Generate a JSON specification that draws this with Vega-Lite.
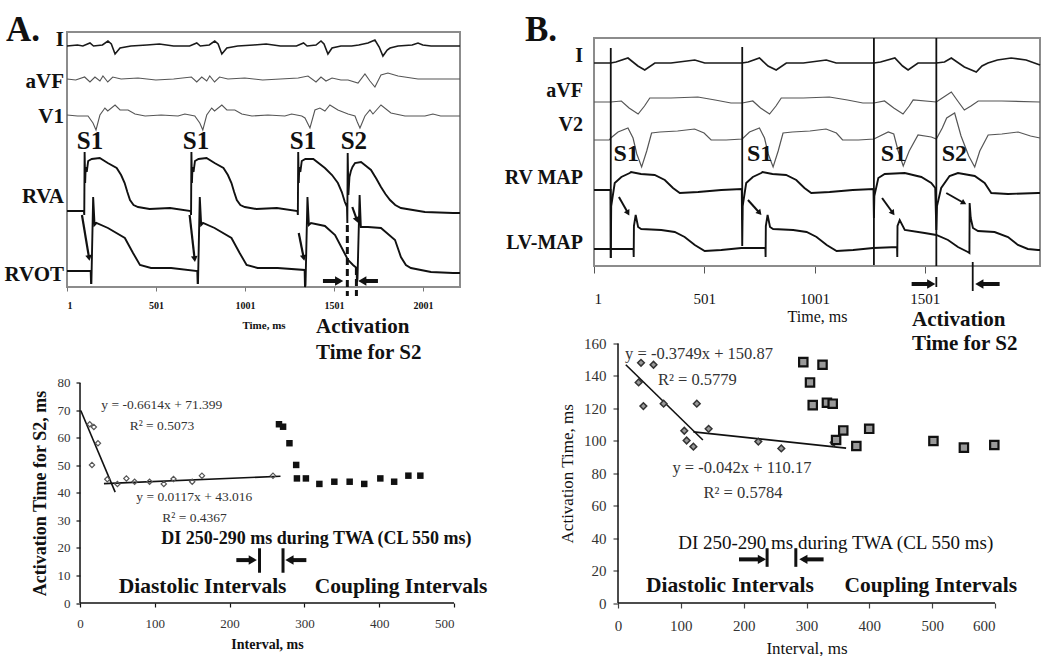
{
"$schema":"https://vega.github.io/schema/vega-lite/v6.json",
"padding":{"left":3,"top":12,"right":0,"bottom":0},
"bounds":"flush",
"align":"each",
"columns":2,
"spacing":{"row":56.5,"column":134},
"config":{"view":{"stroke":null},"font":"Liberation Serif","axis":{"grid":false,"labelFont":"Liberation Serif","titleFont":"Liberation Serif"}},
"datasets":{
"trA":[
{"ch":"RVA","t":1,"v":76},{"ch":"RVA","t":96,"v":76},{"ch":"RVA","t":98,"v":72},{"ch":"RVA","t":100,"v":135},{"ch":"RVA","t":103,"v":104},{"ch":"RVA","t":106,"v":120},{"ch":"RVA","t":112,"v":115},{"ch":"RVA","t":120,"v":126},{"ch":"RVA","t":140,"v":128},{"ch":"RVA","t":185,"v":129},{"ch":"RVA","t":230,"v":124},{"ch":"RVA","t":280,"v":119},{"ch":"RVA","t":305,"v":112},{"ch":"RVA","t":325,"v":104},{"ch":"RVA","t":340,"v":95},{"ch":"RVA","t":355,"v":87},{"ch":"RVA","t":375,"v":82},{"ch":"RVA","t":400,"v":80},{"ch":"RVA","t":465,"v":78},{"ch":"RVA","t":580,"v":79},{"ch":"RVA","t":696,"v":76},{"ch":"RVA","t":698,"v":72},{"ch":"RVA","t":700,"v":135},{"ch":"RVA","t":703,"v":104},{"ch":"RVA","t":706,"v":120},{"ch":"RVA","t":712,"v":115},{"ch":"RVA","t":720,"v":126},{"ch":"RVA","t":740,"v":128},{"ch":"RVA","t":785,"v":129},{"ch":"RVA","t":830,"v":124},{"ch":"RVA","t":880,"v":119},{"ch":"RVA","t":905,"v":112},{"ch":"RVA","t":925,"v":104},{"ch":"RVA","t":940,"v":95},{"ch":"RVA","t":955,"v":87},{"ch":"RVA","t":975,"v":82},{"ch":"RVA","t":1000,"v":80},{"ch":"RVA","t":1065,"v":78},{"ch":"RVA","t":1180,"v":79},{"ch":"RVA","t":1296,"v":76},{"ch":"RVA","t":1298,"v":72},{"ch":"RVA","t":1300,"v":135},{"ch":"RVA","t":1303,"v":104},{"ch":"RVA","t":1306,"v":120},{"ch":"RVA","t":1312,"v":115},{"ch":"RVA","t":1320,"v":126},{"ch":"RVA","t":1340,"v":128},{"ch":"RVA","t":1385,"v":128},{"ch":"RVA","t":1450,"v":119},{"ch":"RVA","t":1490,"v":112},{"ch":"RVA","t":1523,"v":104},{"ch":"RVA","t":1545,"v":95},{"ch":"RVA","t":1562,"v":85},{"ch":"RVA","t":1574,"v":80},{"ch":"RVA","t":1576,"v":64},{"ch":"RVA","t":1578,"v":134},{"ch":"RVA","t":1582,"v":92},{"ch":"RVA","t":1588,"v":110},{"ch":"RVA","t":1596,"v":116},{"ch":"RVA","t":1605,"v":120},{"ch":"RVA","t":1619,"v":124},{"ch":"RVA","t":1653,"v":125},{"ch":"RVA","t":1709,"v":117},{"ch":"RVA","t":1740,"v":108},{"ch":"RVA","t":1765,"v":100},{"ch":"RVA","t":1790,"v":93},{"ch":"RVA","t":1816,"v":87},{"ch":"RVA","t":1845,"v":82},{"ch":"RVA","t":1877,"v":79},{"ch":"RVA","t":2012,"v":75},{"ch":"RVA","t":2170,"v":74},{"ch":"RVA","t":2209,"v":74},
{"ch":"RVOT","t":1,"v":16},{"ch":"RVOT","t":134,"v":16},{"ch":"RVOT","t":136,"v":4},{"ch":"RVOT","t":138,"v":4},{"ch":"RVOT","t":148,"v":90},{"ch":"RVOT","t":156,"v":62},{"ch":"RVOT","t":166,"v":64},{"ch":"RVOT","t":231,"v":59},{"ch":"RVOT","t":326,"v":49},{"ch":"RVOT","t":372,"v":34},{"ch":"RVOT","t":411,"v":22},{"ch":"RVOT","t":473,"v":19},{"ch":"RVOT","t":586,"v":19},{"ch":"RVOT","t":733,"v":16},{"ch":"RVOT","t":735,"v":4},{"ch":"RVOT","t":737,"v":4},{"ch":"RVOT","t":747,"v":90},{"ch":"RVOT","t":755,"v":62},{"ch":"RVOT","t":765,"v":64},{"ch":"RVOT","t":830,"v":59},{"ch":"RVOT","t":925,"v":49},{"ch":"RVOT","t":971,"v":34},{"ch":"RVOT","t":1010,"v":22},{"ch":"RVOT","t":1072,"v":19},{"ch":"RVOT","t":1185,"v":19},{"ch":"RVOT","t":1336,"v":17},{"ch":"RVOT","t":1338,"v":0},{"ch":"RVOT","t":1341,"v":2},{"ch":"RVOT","t":1352,"v":90},{"ch":"RVOT","t":1360,"v":62},{"ch":"RVOT","t":1372,"v":64},{"ch":"RVOT","t":1450,"v":61},{"ch":"RVOT","t":1507,"v":52},{"ch":"RVOT","t":1551,"v":37},{"ch":"RVOT","t":1580,"v":27},{"ch":"RVOT","t":1608,"v":22},{"ch":"RVOT","t":1628,"v":19},{"ch":"RVOT","t":1630,"v":5},{"ch":"RVOT","t":1633,"v":8},{"ch":"RVOT","t":1645,"v":92},{"ch":"RVOT","t":1652,"v":60},{"ch":"RVOT","t":1662,"v":60},{"ch":"RVOT","t":1692,"v":60},{"ch":"RVOT","t":1765,"v":59},{"ch":"RVOT","t":1844,"v":47},{"ch":"RVOT","t":1877,"v":30},{"ch":"RVOT","t":1905,"v":22},{"ch":"RVOT","t":1933,"v":19},{"ch":"RVOT","t":2046,"v":15},{"ch":"RVOT","t":2170,"v":14},{"ch":"RVOT","t":2209,"v":14},
{"ch":"I","t":1,"v":241},{"ch":"I","t":60,"v":242},{"ch":"I","t":90,"v":241},{"ch":"I","t":130,"v":244},{"ch":"I","t":150,"v":241},{"ch":"I","t":200,"v":242},{"ch":"I","t":231,"v":246},{"ch":"I","t":250,"v":243},{"ch":"I","t":271,"v":233},{"ch":"I","t":299,"v":239},{"ch":"I","t":360,"v":241},{"ch":"I","t":450,"v":242},{"ch":"I","t":520,"v":243},{"ch":"I","t":600,"v":241},{"ch":"I","t":690,"v":241},{"ch":"I","t":730,"v":244},{"ch":"I","t":750,"v":241},{"ch":"I","t":800,"v":242},{"ch":"I","t":831,"v":246},{"ch":"I","t":850,"v":243},{"ch":"I","t":871,"v":233},{"ch":"I","t":899,"v":239},{"ch":"I","t":960,"v":241},{"ch":"I","t":1050,"v":242},{"ch":"I","t":1120,"v":243},{"ch":"I","t":1200,"v":241},{"ch":"I","t":1290,"v":241},{"ch":"I","t":1330,"v":244},{"ch":"I","t":1350,"v":241},{"ch":"I","t":1400,"v":242},{"ch":"I","t":1428,"v":246},{"ch":"I","t":1445,"v":243},{"ch":"I","t":1467,"v":233},{"ch":"I","t":1490,"v":239},{"ch":"I","t":1540,"v":241},{"ch":"I","t":1600,"v":241},{"ch":"I","t":1640,"v":242},{"ch":"I","t":1692,"v":244},{"ch":"I","t":1731,"v":247},{"ch":"I","t":1755,"v":240},{"ch":"I","t":1776,"v":231},{"ch":"I","t":1800,"v":237},{"ch":"I","t":1816,"v":239},{"ch":"I","t":1861,"v":241},{"ch":"I","t":1940,"v":242},{"ch":"I","t":1973,"v":244},{"ch":"I","t":2000,"v":242},{"ch":"I","t":2046,"v":241},{"ch":"I","t":2209,"v":241},
{"ch":"aVF","t":1,"v":208},{"ch":"aVF","t":50,"v":207},{"ch":"aVF","t":100,"v":210},{"ch":"aVF","t":130,"v":205},{"ch":"aVF","t":158,"v":210},{"ch":"aVF","t":186,"v":206},{"ch":"aVF","t":203,"v":211},{"ch":"aVF","t":230,"v":205},{"ch":"aVF","t":258,"v":210},{"ch":"aVF","t":305,"v":208},{"ch":"aVF","t":400,"v":209},{"ch":"aVF","t":500,"v":207},{"ch":"aVF","t":600,"v":208},{"ch":"aVF","t":700,"v":210},{"ch":"aVF","t":730,"v":205},{"ch":"aVF","t":758,"v":210},{"ch":"aVF","t":786,"v":206},{"ch":"aVF","t":803,"v":211},{"ch":"aVF","t":830,"v":205},{"ch":"aVF","t":858,"v":210},{"ch":"aVF","t":905,"v":208},{"ch":"aVF","t":1000,"v":209},{"ch":"aVF","t":1100,"v":207},{"ch":"aVF","t":1200,"v":208},{"ch":"aVF","t":1300,"v":209},{"ch":"aVF","t":1355,"v":211},{"ch":"aVF","t":1400,"v":205},{"ch":"aVF","t":1428,"v":210},{"ch":"aVF","t":1456,"v":206},{"ch":"aVF","t":1490,"v":209},{"ch":"aVF","t":1540,"v":207},{"ch":"aVF","t":1580,"v":207},{"ch":"aVF","t":1636,"v":204},{"ch":"aVF","t":1675,"v":213},{"ch":"aVF","t":1703,"v":206},{"ch":"aVF","t":1731,"v":200},{"ch":"aVF","t":1765,"v":212},{"ch":"aVF","t":1804,"v":214},{"ch":"aVF","t":1861,"v":211},{"ch":"aVF","t":1973,"v":208},{"ch":"aVF","t":2100,"v":208},{"ch":"aVF","t":2209,"v":208},
{"ch":"V1","t":1,"v":172},{"ch":"V1","t":60,"v":171},{"ch":"V1","t":119,"v":171},{"ch":"V1","t":147,"v":164},{"ch":"V1","t":164,"v":157},{"ch":"V1","t":186,"v":172},{"ch":"V1","t":214,"v":179},{"ch":"V1","t":230,"v":176},{"ch":"V1","t":271,"v":182},{"ch":"V1","t":299,"v":177},{"ch":"V1","t":344,"v":177},{"ch":"V1","t":383,"v":173},{"ch":"V1","t":440,"v":171},{"ch":"V1","t":530,"v":172},{"ch":"V1","t":625,"v":171},{"ch":"V1","t":663,"v":173},{"ch":"V1","t":719,"v":171},{"ch":"V1","t":747,"v":164},{"ch":"V1","t":764,"v":157},{"ch":"V1","t":786,"v":172},{"ch":"V1","t":814,"v":179},{"ch":"V1","t":830,"v":176},{"ch":"V1","t":871,"v":182},{"ch":"V1","t":899,"v":177},{"ch":"V1","t":944,"v":177},{"ch":"V1","t":983,"v":173},{"ch":"V1","t":1040,"v":171},{"ch":"V1","t":1130,"v":172},{"ch":"V1","t":1225,"v":171},{"ch":"V1","t":1263,"v":173},{"ch":"V1","t":1320,"v":171},{"ch":"V1","t":1338,"v":169},{"ch":"V1","t":1366,"v":159},{"ch":"V1","t":1394,"v":177},{"ch":"V1","t":1422,"v":179},{"ch":"V1","t":1450,"v":176},{"ch":"V1","t":1478,"v":182},{"ch":"V1","t":1523,"v":177},{"ch":"V1","t":1580,"v":173},{"ch":"V1","t":1619,"v":171},{"ch":"V1","t":1632,"v":165},{"ch":"V1","t":1647,"v":159},{"ch":"V1","t":1675,"v":171},{"ch":"V1","t":1703,"v":177},{"ch":"V1","t":1720,"v":173},{"ch":"V1","t":1765,"v":182},{"ch":"V1","t":1821,"v":174},{"ch":"V1","t":1900,"v":171},{"ch":"V1","t":2012,"v":171},{"ch":"V1","t":2057,"v":173},{"ch":"V1","t":2100,"v":171},{"ch":"V1","t":2209,"v":171}
],
"txA":[
{"kind":"ch","t":1,"v":247,"label":"I"},{"kind":"ch","t":1,"v":205,"label":"aVF"},{"kind":"ch","t":1,"v":170,"label":"V1"},{"kind":"ch","t":1,"v":90,"label":"RVA"},{"kind":"ch","t":1,"v":12,"label":"RVOT"},
{"kind":"P","t":1,"v":257,"label":"A."},
{"kind":"S","t":130,"v":146,"label":"S1"},{"kind":"S","t":726,"v":146,"label":"S1"},{"kind":"S","t":1327,"v":146,"label":"S1"},{"kind":"S","t":1613,"v":146,"label":"S2"},
{"kind":"act","t":1400,"v":-40,"label":"Activation"},{"kind":"act","t":1400,"v":-66,"label":"Time for S2"}
],
"arA":[
{"kind":"tr","t0":85,"v0":72,"t":125,"v":29,"ang":81},{"kind":"tr","t0":690,"v0":72,"t":718,"v":28,"ang":83},{"kind":"tr","t0":1303,"v0":54,"t":1331,"v":29,"ang":79},{"kind":"tr","t0":1604,"v0":80,"t":1630,"v":67,"ang":70},
{"kind":"big","t0":1439,"v0":6,"t":1530,"v":6,"ang":0},{"kind":"big","t0":1748,"v0":6,"t":1660,"v":6,"ang":180}
],
"vrA":[{"t":1576,"v":62,"v2":-9},{"t":1627,"v":19,"v2":-9}],
"trB":[
{"ch":"I","t":1,"v":203},{"ch":"I","t":77,"v":203},{"ch":"I","t":100,"v":204},{"ch":"I","t":155,"v":208},{"ch":"I","t":200,"v":200},{"ch":"I","t":231,"v":196},{"ch":"I","t":277,"v":203},{"ch":"I","t":350,"v":203},{"ch":"I","t":458,"v":206},{"ch":"I","t":503,"v":203},{"ch":"I","t":600,"v":203},{"ch":"I","t":673,"v":203},{"ch":"I","t":700,"v":204},{"ch":"I","t":751,"v":208},{"ch":"I","t":790,"v":200},{"ch":"I","t":827,"v":196},{"ch":"I","t":873,"v":203},{"ch":"I","t":950,"v":203},{"ch":"I","t":1054,"v":206},{"ch":"I","t":1099,"v":203},{"ch":"I","t":1200,"v":203},{"ch":"I","t":1270,"v":203},{"ch":"I","t":1300,"v":204},{"ch":"I","t":1365,"v":208},{"ch":"I","t":1400,"v":200},{"ch":"I","t":1425,"v":196},{"ch":"I","t":1470,"v":203},{"ch":"I","t":1553,"v":203},{"ch":"I","t":1590,"v":204},{"ch":"I","t":1621,"v":208},{"ch":"I","t":1680,"v":199},{"ch":"I","t":1734,"v":194},{"ch":"I","t":1760,"v":200},{"ch":"I","t":1787,"v":203},{"ch":"I","t":1830,"v":206},{"ch":"I","t":1892,"v":208},{"ch":"I","t":1960,"v":206},{"ch":"I","t":2023,"v":201},
{"ch":"aVF","t":1,"v":164},{"ch":"aVF","t":77,"v":164},{"ch":"aVF","t":125,"v":165},{"ch":"aVF","t":160,"v":158},{"ch":"aVF","t":201,"v":152},{"ch":"aVF","t":230,"v":160},{"ch":"aVF","t":254,"v":168},{"ch":"aVF","t":350,"v":168},{"ch":"aVF","t":472,"v":169},{"ch":"aVF","t":550,"v":166},{"ch":"aVF","t":622,"v":163},{"ch":"aVF","t":673,"v":163},{"ch":"aVF","t":721,"v":165},{"ch":"aVF","t":756,"v":158},{"ch":"aVF","t":797,"v":152},{"ch":"aVF","t":826,"v":160},{"ch":"aVF","t":850,"v":168},{"ch":"aVF","t":950,"v":168},{"ch":"aVF","t":1068,"v":169},{"ch":"aVF","t":1150,"v":166},{"ch":"aVF","t":1220,"v":163},{"ch":"aVF","t":1270,"v":163},{"ch":"aVF","t":1318,"v":165},{"ch":"aVF","t":1360,"v":158},{"ch":"aVF","t":1402,"v":152},{"ch":"aVF","t":1430,"v":160},{"ch":"aVF","t":1448,"v":166},{"ch":"aVF","t":1553,"v":164},{"ch":"aVF","t":1580,"v":168},{"ch":"aVF","t":1621,"v":174},{"ch":"aVF","t":1650,"v":165},{"ch":"aVF","t":1680,"v":156},{"ch":"aVF","t":1710,"v":160},{"ch":"aVF","t":1743,"v":165},{"ch":"aVF","t":1850,"v":165},{"ch":"aVF","t":2023,"v":164},
{"ch":"V2","t":1,"v":126},{"ch":"V2","t":70,"v":126},{"ch":"V2","t":77,"v":128},{"ch":"V2","t":110,"v":134},{"ch":"V2","t":155,"v":138},{"ch":"V2","t":178,"v":128},{"ch":"V2","t":195,"v":112},{"ch":"V2","t":217,"v":99},{"ch":"V2","t":240,"v":115},{"ch":"V2","t":262,"v":133},{"ch":"V2","t":300,"v":134},{"ch":"V2","t":380,"v":135},{"ch":"V2","t":457,"v":137},{"ch":"V2","t":500,"v":133},{"ch":"V2","t":532,"v":126},{"ch":"V2","t":600,"v":126},{"ch":"V2","t":673,"v":127},{"ch":"V2","t":706,"v":134},{"ch":"V2","t":751,"v":138},{"ch":"V2","t":774,"v":128},{"ch":"V2","t":791,"v":112},{"ch":"V2","t":813,"v":99},{"ch":"V2","t":836,"v":115},{"ch":"V2","t":858,"v":133},{"ch":"V2","t":900,"v":134},{"ch":"V2","t":980,"v":135},{"ch":"V2","t":1053,"v":137},{"ch":"V2","t":1100,"v":133},{"ch":"V2","t":1128,"v":126},{"ch":"V2","t":1200,"v":126},{"ch":"V2","t":1270,"v":127},{"ch":"V2","t":1335,"v":134},{"ch":"V2","t":1360,"v":132},{"ch":"V2","t":1380,"v":115},{"ch":"V2","t":1403,"v":100},{"ch":"V2","t":1430,"v":115},{"ch":"V2","t":1470,"v":131},{"ch":"V2","t":1530,"v":129},{"ch":"V2","t":1553,"v":127},{"ch":"V2","t":1580,"v":138},{"ch":"V2","t":1600,"v":148},{"ch":"V2","t":1636,"v":153},{"ch":"V2","t":1665,"v":130},{"ch":"V2","t":1700,"v":110},{"ch":"V2","t":1727,"v":99},{"ch":"V2","t":1750,"v":115},{"ch":"V2","t":1788,"v":131},{"ch":"V2","t":1850,"v":132},{"ch":"V2","t":1924,"v":134},{"ch":"V2","t":1980,"v":130},{"ch":"V2","t":2023,"v":128},
{"ch":"RV MAP","t":1,"v":76},{"ch":"RV MAP","t":76,"v":76},{"ch":"RV MAP","t":77,"v":8},{"ch":"RV MAP","t":79,"v":60},{"ch":"RV MAP","t":95,"v":83},{"ch":"RV MAP","t":125,"v":89},{"ch":"RV MAP","t":163,"v":93},{"ch":"RV MAP","t":169,"v":94},{"ch":"RV MAP","t":214,"v":92},{"ch":"RV MAP","t":276,"v":91},{"ch":"RV MAP","t":322,"v":86},{"ch":"RV MAP","t":359,"v":78},{"ch":"RV MAP","t":390,"v":73},{"ch":"RV MAP","t":473,"v":74},{"ch":"RV MAP","t":578,"v":76},{"ch":"RV MAP","t":671,"v":77},{"ch":"RV MAP","t":673,"v":20},{"ch":"RV MAP","t":675,"v":60},{"ch":"RV MAP","t":691,"v":83},{"ch":"RV MAP","t":721,"v":89},{"ch":"RV MAP","t":759,"v":93},{"ch":"RV MAP","t":765,"v":94},{"ch":"RV MAP","t":810,"v":92},{"ch":"RV MAP","t":872,"v":91},{"ch":"RV MAP","t":918,"v":86},{"ch":"RV MAP","t":955,"v":78},{"ch":"RV MAP","t":986,"v":73},{"ch":"RV MAP","t":1069,"v":74},{"ch":"RV MAP","t":1174,"v":76},{"ch":"RV MAP","t":1268,"v":77},{"ch":"RV MAP","t":1270,"v":48},{"ch":"RV MAP","t":1272,"v":70},{"ch":"RV MAP","t":1290,"v":88},{"ch":"RV MAP","t":1319,"v":92},{"ch":"RV MAP","t":1410,"v":93},{"ch":"RV MAP","t":1485,"v":89},{"ch":"RV MAP","t":1530,"v":83},{"ch":"RV MAP","t":1548,"v":78},{"ch":"RV MAP","t":1553,"v":36},{"ch":"RV MAP","t":1556,"v":60},{"ch":"RV MAP","t":1575,"v":78},{"ch":"RV MAP","t":1613,"v":90},{"ch":"RV MAP","t":1651,"v":93},{"ch":"RV MAP","t":1727,"v":90},{"ch":"RV MAP","t":1772,"v":83},{"ch":"RV MAP","t":1802,"v":73},{"ch":"RV MAP","t":1878,"v":72},{"ch":"RV MAP","t":2014,"v":73},{"ch":"RV MAP","t":2023,"v":73},
{"ch":"LV-MAP","t":1,"v":17},{"ch":"LV-MAP","t":180,"v":17},{"ch":"LV-MAP","t":181,"v":9},{"ch":"LV-MAP","t":182,"v":40},{"ch":"LV-MAP","t":190,"v":51},{"ch":"LV-MAP","t":201,"v":39},{"ch":"LV-MAP","t":215,"v":37},{"ch":"LV-MAP","t":306,"v":36},{"ch":"LV-MAP","t":367,"v":34},{"ch":"LV-MAP","t":412,"v":29},{"ch":"LV-MAP","t":458,"v":21},{"ch":"LV-MAP","t":503,"v":15},{"ch":"LV-MAP","t":578,"v":16},{"ch":"LV-MAP","t":669,"v":18},{"ch":"LV-MAP","t":778,"v":18},{"ch":"LV-MAP","t":779,"v":9},{"ch":"LV-MAP","t":780,"v":40},{"ch":"LV-MAP","t":788,"v":51},{"ch":"LV-MAP","t":799,"v":39},{"ch":"LV-MAP","t":813,"v":37},{"ch":"LV-MAP","t":904,"v":36},{"ch":"LV-MAP","t":965,"v":34},{"ch":"LV-MAP","t":1010,"v":29},{"ch":"LV-MAP","t":1056,"v":21},{"ch":"LV-MAP","t":1101,"v":15},{"ch":"LV-MAP","t":1176,"v":16},{"ch":"LV-MAP","t":1267,"v":18},{"ch":"LV-MAP","t":1375,"v":19},{"ch":"LV-MAP","t":1376,"v":9},{"ch":"LV-MAP","t":1377,"v":40},{"ch":"LV-MAP","t":1387,"v":46},{"ch":"LV-MAP","t":1410,"v":36},{"ch":"LV-MAP","t":1500,"v":33},{"ch":"LV-MAP","t":1553,"v":31},{"ch":"LV-MAP","t":1606,"v":26},{"ch":"LV-MAP","t":1651,"v":19},{"ch":"LV-MAP","t":1696,"v":14},{"ch":"LV-MAP","t":1703,"v":13},{"ch":"LV-MAP","t":1704,"v":63},{"ch":"LV-MAP","t":1709,"v":48},{"ch":"LV-MAP","t":1719,"v":38},{"ch":"LV-MAP","t":1742,"v":35},{"ch":"LV-MAP","t":1817,"v":34},{"ch":"LV-MAP","t":1878,"v":29},{"ch":"LV-MAP","t":1923,"v":21},{"ch":"LV-MAP","t":1968,"v":17},{"ch":"LV-MAP","t":2014,"v":16},{"ch":"LV-MAP","t":2023,"v":16}
],
"txB":[
{"kind":"ch","t":1,"v":210,"label":"I"},{"kind":"ch","t":1,"v":175,"label":"aVF"},{"kind":"ch","t":1,"v":141,"label":"V2"},{"kind":"ch","t":1,"v":88.5,"label":"RV MAP"},{"kind":"ch","t":1,"v":23.3,"label":"LV-MAP"},
{"kind":"P","t":1,"v":236,"label":"B."},
{"kind":"S","t":147,"v":112,"label":"S1"},{"kind":"S","t":752,"v":112,"label":"S1"},{"kind":"S","t":1359,"v":112,"label":"S1"},{"kind":"S","t":1635,"v":112,"label":"S2"},
{"kind":"act","t":1443,"v":-54,"label":"Activation"},{"kind":"act","t":1443,"v":-77.5,"label":"Time for S2"}
],
"arB":[
{"kind":"tr","t0":114,"v0":69,"t":155,"v":53,"ang":61},{"kind":"tr","t0":699,"v0":66,"t":752,"v":53,"ang":49},{"kind":"tr","t0":1307,"v0":68,"t":1356,"v":53,"ang":54},{"kind":"tr","t0":1598,"v0":73,"t":1678,"v":63,"ang":30},
{"kind":"big","t0":1441,"v0":-18,"t":1530,"v":-18,"ang":0},{"kind":"big","t0":1840,"v0":-18,"t":1748,"v":-18,"ang":180}
],
"vrB":[{"t":77,"v":218,"v2":8},{"t":673,"v":219,"v2":46},{"t":1270,"v":228,"v2":1},{"t":1553,"v":228,"v2":0}],
"brB":[{"t":1553,"v":-11,"v2":-21},{"t":1718,"v":4,"v2":-25}],
"frB":[{"t":1,"t2":2023,"v":0,"v2":228}],
"ptA":[
{"grp":"D","x":13,"y":65},{"grp":"D","x":18.5,"y":64},{"grp":"D","x":16,"y":50.2},{"grp":"D","x":24,"y":58.1},{"grp":"D","x":36.5,"y":45},{"grp":"D","x":50,"y":43.3},{"grp":"D","x":62,"y":45.3},{"grp":"D","x":73,"y":44.1},{"grp":"D","x":93,"y":44.1},{"grp":"D","x":112,"y":43.3},{"grp":"D","x":125,"y":45.1},{"grp":"D","x":150,"y":44.1},{"grp":"D","x":163,"y":46.3},{"grp":"D","x":258,"y":46.3},
{"grp":"S","x":266,"y":65},{"grp":"S","x":271.5,"y":64.1},{"grp":"S","x":280,"y":58.1},{"grp":"S","x":289,"y":50.2},{"grp":"S","x":290,"y":45.3},{"grp":"S","x":302,"y":45.3},{"grp":"S","x":320,"y":43.3},{"grp":"S","x":340,"y":44.1},{"grp":"S","x":360.5,"y":44.1},{"grp":"S","x":380,"y":43.3},{"grp":"S","x":401.5,"y":45.3},{"grp":"S","x":420,"y":44.1},{"grp":"S","x":439,"y":46.3},{"grp":"S","x":455,"y":46.3}
],
"lnA":[{"seg":"a","x":1,"y":70},{"seg":"a","x":47,"y":40.3},{"seg":"b","x":32,"y":43.4},{"seg":"b","x":268,"y":46.1}],
"axA":[{"x":0,"y":0,"x2":500,"y2":0},{"x":0,"y":0,"x2":0,"y2":80}],
"tA":[
{"kind":"eq","x":28.5,"y":72,"label":"y = -0.6614x + 71.399"},{"kind":"eq","x":66.4,"y":64.5,"label":"R² = 0.5073"},{"kind":"eq","x":75.3,"y":38.4,"label":"y = 0.0117x + 43.016"},{"kind":"eq","x":110,"y":30.8,"label":"R² = 0.4367"},
{"kind":"di","x":108.7,"y":23.3,"label":"DI 250-290 ms during TWA (CL 550 ms)"},
{"kind":"big","x":51.7,"y":5.9,"label":"Diastolic Intervals"},{"kind":"big","x":313.7,"y":5.9,"label":"Coupling Intervals"}
],
"aA":[{"x0":209,"y0":15.6,"x":231,"y":15.6,"ang":0},{"x0":302.6,"y0":15.6,"x":280,"y":15.6,"ang":180}],
"bA":[{"x":240,"y":19.9,"y2":11},{"x":271.4,"y":19.9,"y2":11}],
"ptB":[
{"grp":"D","x":32.8,"y":136},{"grp":"D","x":36.6,"y":148.1},{"grp":"D","x":40.4,"y":121.4},{"grp":"D","x":56.5,"y":146.9},{"grp":"D","x":72.6,"y":122.9},{"grp":"D","x":105.5,"y":106.2},{"grp":"D","x":109.2,"y":100.2},{"grp":"D","x":120,"y":96.4},{"grp":"D","x":125.4,"y":122.9},{"grp":"D","x":144.2,"y":107.4},{"grp":"D","x":223.3,"y":99.5},{"grp":"D","x":259.9,"y":95.3},{"grp":"D","x":343.3,"y":98.9},
{"grp":"S","x":294.9,"y":148.5},{"grp":"S","x":305.6,"y":136},{"grp":"S","x":309.9,"y":122},{"grp":"S","x":325.5,"y":146.9},{"grp":"S","x":332.5,"y":123.5},{"grp":"S","x":341.7,"y":122.9},{"grp":"S","x":347.1,"y":100.5},{"grp":"S","x":358.5,"y":106.4},{"grp":"S","x":379.3,"y":96.8},{"grp":"S","x":399.8,"y":107.4},{"grp":"S","x":502,"y":99.9},{"grp":"S","x":550.5,"y":95.8},{"grp":"S","x":598.9,"y":97.4}
],
"lnB":[{"seg":"a","x":12.4,"y":146.9},{"seg":"a","x":135.1,"y":100.5},{"seg":"b","x":120,"y":105.5},{"seg":"b","x":363,"y":95.5}],
"axB":[{"x":0,"y":0,"x2":600,"y2":0},{"x":0,"y":0,"x2":0,"y2":160}],
"tB":[
{"kind":"eq","x":11.3,"y":153.3,"label":"y = -0.3749x + 150.87"},{"kind":"eq","x":63.5,"y":137.5,"label":"R² = 0.5779"},{"kind":"eq","x":86.6,"y":83.2,"label":"y = -0.042x + 110.17"},{"kind":"eq","x":136.1,"y":67.6,"label":"R² = 0.5784"},
{"kind":"di","x":95.8,"y":37.3,"label":"DI 250-290 ms during TWA (CL 550 ms)"},
{"kind":"big","x":44.7,"y":10.2,"label":"Diastolic Intervals"},{"kind":"big","x":360.5,"y":10.2,"label":"Coupling Intervals"}
],
"aB":[{"x0":192.6,"y0":26.9,"x":229,"y":26.9,"ang":0},{"x0":327.2,"y0":26.9,"x":295,"y":26.9,"ang":180}],
"bB":[{"x":237.3,"y":33.8,"y2":22.3},{"x":283,"y":33.8,"y2":22.3}]
},
"concat":[
 {"width":393,"height":255,"view":{"stroke":"#8c8c8c","strokeWidth":2},
  "encoding":{
   "x":{"field":"t","type":"quantitative","scale":{"domain":[1,2209],"nice":false,"zero":false},"axis":{"values":[1,501,1001,1501,2001],"format":"d","title":"Time, ms","domain":false,"tickSize":4,"tickColor":"#777","labelFontWeight":"bold","labelFontSize":10,"labelColor":"#111","labelPadding":9,"titleFontWeight":"bold","titleFontSize":11,"titleColor":"#111","titlePadding":9}},
   "y":{"field":"v","type":"quantitative","scale":{"domain":[0,255],"nice":false,"zero":false},"axis":null}
  },
  "layer":[
   {"data":{"name":"trA"},"transform":[{"filter":{"field":"ch","oneOf":["RVA","RVOT"]}}],"mark":{"type":"line","color":"#111","strokeWidth":1.9},"encoding":{"detail":{"field":"ch"}}},
   {"data":{"name":"trA"},"transform":[{"filter":{"field":"ch","oneOf":["I"]}}],"mark":{"type":"line","color":"#1a1a1a","strokeWidth":1.6},"encoding":{"detail":{"field":"ch"}}},
   {"data":{"name":"trA"},"transform":[{"filter":{"field":"ch","oneOf":["aVF","V1"]}}],"mark":{"type":"line","color":"#555","strokeWidth":1.1},"encoding":{"detail":{"field":"ch"}}},
   {"data":{"name":"vrA"},"mark":{"type":"rule","strokeWidth":3,"strokeDash":[7,4],"color":"#111"},"encoding":{"y2":{"field":"v2"}}},
   {"data":{"name":"arA"},"transform":[{"filter":"datum.kind === 'tr'"}],"mark":{"type":"rule","strokeWidth":2.2,"color":"#111"},"encoding":{"x2":{"field":"t0"},"y2":{"field":"v0"}}},
   {"data":{"name":"arA"},"transform":[{"filter":"datum.kind === 'tr'"}],"mark":{"type":"point","shape":"triangle-right","filled":true,"opacity":1,"color":"#111","size":45},"encoding":{"angle":{"field":"ang","type":"quantitative","scale":null}}},
   {"data":{"name":"arA"},"transform":[{"filter":"datum.kind === 'big'"}],"mark":{"type":"rule","strokeWidth":4,"color":"#111"},"encoding":{"x2":{"field":"t0"},"y2":{"field":"v0"}}},
   {"data":{"name":"arA"},"transform":[{"filter":"datum.kind === 'big'"}],"mark":{"type":"point","shape":"triangle-right","filled":true,"opacity":1,"color":"#111","size":90},"encoding":{"angle":{"field":"ang","type":"quantitative","scale":null}}},
   {"data":{"name":"txA"},"transform":[{"filter":"datum.kind === 'ch'"}],"mark":{"type":"text","align":"right","baseline":"middle","dx":-3,"font":"Liberation Serif","fontWeight":"bold","fontSize":21,"color":"#111"},"encoding":{"text":{"field":"label"}}},
   {"data":{"name":"txA"},"transform":[{"filter":"datum.kind === 'P'"}],"mark":{"type":"text","align":"right","baseline":"middle","dx":-27,"font":"Liberation Serif","fontWeight":"bold","fontSize":35,"color":"#111"},"encoding":{"text":{"field":"label"}}},
   {"data":{"name":"txA"},"transform":[{"filter":"datum.kind === 'S'"}],"mark":{"type":"text","align":"center","baseline":"middle","font":"Liberation Serif","fontWeight":"bold","fontSize":25,"color":"#111"},"encoding":{"text":{"field":"label"}}},
   {"data":{"name":"txA"},"transform":[{"filter":"datum.kind === 'act'"}],"mark":{"type":"text","align":"left","baseline":"middle","font":"Liberation Serif","fontWeight":"bold","fontSize":21,"color":"#111"},"encoding":{"text":{"field":"label"}}}
  ]
 },
 {"width":446,"height":234,
  "encoding":{
   "x":{"field":"t","type":"quantitative","scale":{"domain":[1,2023],"nice":false,"zero":false},"axis":{"values":[1,501,1001,1501],"format":"d","title":"Time, ms","domain":false,"tickSize":7,"tickColor":"#555","labelFontSize":15,"labelColor":"#111","labelPadding":18,"titleFontSize":16,"titleFontWeight":"normal","titleColor":"#111","titlePadding":2}},
   "y":{"field":"v","type":"quantitative","scale":{"domain":[0,234],"nice":false,"zero":false},"axis":null}
  },
  "layer":[
   {"data":{"name":"frB"},"mark":{"type":"rect","filled":false,"stroke":"#8c8c8c","strokeWidth":2},"encoding":{"x2":{"field":"t2"},"y2":{"field":"v2"}}},
   {"data":{"name":"trB"},"transform":[{"filter":{"field":"ch","oneOf":["RV MAP","LV-MAP"]}}],"mark":{"type":"line","color":"#111","strokeWidth":1.9},"encoding":{"detail":{"field":"ch"}}},
   {"data":{"name":"trB"},"transform":[{"filter":{"field":"ch","oneOf":["I"]}}],"mark":{"type":"line","color":"#1a1a1a","strokeWidth":1.7},"encoding":{"detail":{"field":"ch"}}},
   {"data":{"name":"trB"},"transform":[{"filter":{"field":"ch","oneOf":["aVF","V2"]}}],"mark":{"type":"line","color":"#555","strokeWidth":1.2},"encoding":{"detail":{"field":"ch"}}},
   {"data":{"name":"vrB"},"mark":{"type":"rule","strokeWidth":1.8,"color":"#111"},"encoding":{"y2":{"field":"v2"}}},
   {"data":{"name":"brB"},"mark":{"type":"rule","strokeWidth":1.8,"color":"#111"},"encoding":{"y2":{"field":"v2"}}},
   {"data":{"name":"arB"},"transform":[{"filter":"datum.kind === 'tr'"}],"mark":{"type":"rule","strokeWidth":2,"color":"#111"},"encoding":{"x2":{"field":"t0"},"y2":{"field":"v0"}}},
   {"data":{"name":"arB"},"transform":[{"filter":"datum.kind === 'tr'"}],"mark":{"type":"point","shape":"triangle-right","filled":true,"opacity":1,"color":"#111","size":40},"encoding":{"angle":{"field":"ang","type":"quantitative","scale":null}}},
   {"data":{"name":"arB"},"transform":[{"filter":"datum.kind === 'big'"}],"mark":{"type":"rule","strokeWidth":4,"color":"#111"},"encoding":{"x2":{"field":"t0"},"y2":{"field":"v0"}}},
   {"data":{"name":"arB"},"transform":[{"filter":"datum.kind === 'big'"}],"mark":{"type":"point","shape":"triangle-right","filled":true,"opacity":1,"color":"#111","size":90},"encoding":{"angle":{"field":"ang","type":"quantitative","scale":null}}},
   {"data":{"name":"txB"},"transform":[{"filter":"datum.kind === 'ch'"}],"mark":{"type":"text","align":"right","baseline":"middle","dx":-11,"font":"Liberation Serif","fontWeight":"bold","fontSize":20,"color":"#111"},"encoding":{"text":{"field":"label"}}},
   {"data":{"name":"txB"},"transform":[{"filter":"datum.kind === 'P'"}],"mark":{"type":"text","align":"right","baseline":"middle","dx":-37,"font":"Liberation Serif","fontWeight":"bold","fontSize":35,"color":"#111"},"encoding":{"text":{"field":"label"}}},
   {"data":{"name":"txB"},"transform":[{"filter":"datum.kind === 'S'"}],"mark":{"type":"text","align":"center","baseline":"middle","font":"Liberation Serif","fontWeight":"bold","fontSize":24,"color":"#111"},"encoding":{"text":{"field":"label"}}},
   {"data":{"name":"txB"},"transform":[{"filter":"datum.kind === 'act'"}],"mark":{"type":"text","align":"left","baseline":"middle","font":"Liberation Serif","fontWeight":"bold","fontSize":21,"color":"#111"},"encoding":{"text":{"field":"label"}}}
  ]
 },
 {"width":387,"height":259.5,
  "encoding":{
   "x":{"field":"x","type":"quantitative","scale":{"domain":[-17.4,500],"nice":false,"zero":false},"axis":{"values":[0,100,200,300,400,500],"title":"Interval, ms","domain":false,"tickColor":"#111","tickSize":4,"tickWidth":1.2,"labelFontSize":13,"labelColor":"#333","labelPadding":10,"titleFontSize":14,"titleFontWeight":"bold","titleColor":"#111","titlePadding":7,"titleX":200}},
   "y":{"field":"y","type":"quantitative","scale":{"domain":[0,94.36],"nice":false,"zero":false},"axis":{"values":[0,10,20,30,40,50,60,70,80],"offset":-13,"title":"Activation Time for S2, ms","domain":false,"tickColor":"#111","tickSize":4,"tickWidth":1.2,"labelFontSize":13,"labelColor":"#333","labelPadding":6,"titleFontSize":18,"titleFontWeight":"bold","titleColor":"#111","titlePadding":8,"titleY":149.5}}
  },
  "layer":[
   {"data":{"name":"axA"},"mark":{"type":"rule","strokeWidth":1.5,"color":"#111"},"encoding":{"x2":{"field":"x2"},"y2":{"field":"y2"}}},
   {"data":{"name":"lnA"},"mark":{"type":"line","color":"#111","strokeWidth":1.6},"encoding":{"detail":{"field":"seg"}}},
   {"data":{"name":"ptA"},"transform":[{"filter":"datum.grp === 'D'"}],"mark":{"type":"point","shape":"diamond","filled":false,"color":"#555","strokeWidth":1.2,"size":28,"opacity":1}},
   {"data":{"name":"ptA"},"transform":[{"filter":"datum.grp === 'S'"}],"mark":{"type":"point","shape":"square","filled":true,"color":"#111","size":42,"opacity":1}},
   {"data":{"name":"aA"},"mark":{"type":"rule","strokeWidth":4,"color":"#111"},"encoding":{"x2":{"field":"x0"},"y2":{"field":"y0"}}},
   {"data":{"name":"aA"},"mark":{"type":"point","shape":"triangle-right","filled":true,"opacity":1,"color":"#111","size":90},"encoding":{"angle":{"field":"ang","type":"quantitative","scale":null}}},
   {"data":{"name":"bA"},"mark":{"type":"rule","strokeWidth":3,"color":"#111"},"encoding":{"y2":{"field":"y2"}}},
   {"data":{"name":"tA"},"transform":[{"filter":"datum.kind === 'eq'"}],"mark":{"type":"text","align":"left","baseline":"middle","font":"Liberation Serif","fontSize":13.5,"color":"#333"},"encoding":{"text":{"field":"label"}}},
   {"data":{"name":"tA"},"transform":[{"filter":"datum.kind === 'di'"}],"mark":{"type":"text","align":"left","baseline":"middle","font":"Liberation Serif","fontWeight":"bold","fontSize":18,"color":"#111"},"encoding":{"text":{"field":"label"}}},
   {"data":{"name":"tA"},"transform":[{"filter":"datum.kind === 'big'"}],"mark":{"type":"text","align":"left","baseline":"middle","font":"Liberation Serif","fontWeight":"bold","fontSize":21.5,"color":"#111"},"encoding":{"text":{"field":"label"}}}
  ]
 },
 {"width":401,"height":259.5,
  "encoding":{
   "x":{"field":"x","type":"quantitative","scale":{"domain":[-38.2,600],"nice":false,"zero":false},"axis":{"values":[0,100,200,300,400,500,600],"title":"Interval, ms","domain":false,"tickColor":"#444","tickSize":5,"tickWidth":1.2,"labelFontSize":15,"labelColor":"#333","labelPadding":10,"titleFontSize":17,"titleFontWeight":"normal","titleColor":"#111","titlePadding":7,"titleX":212.5}},
   "y":{"field":"y","type":"quantitative","scale":{"domain":[0,160],"nice":false,"zero":false},"axis":{"values":[0,20,40,60,80,100,120,140,160],"offset":-24,"title":"Activation Time, ms","domain":false,"tickColor":"#444","tickSize":5,"tickWidth":1.2,"labelFontSize":15,"labelColor":"#333","labelPadding":7,"titleFontSize":17,"titleFontWeight":"normal","titleColor":"#111","titlePadding":7}}
  },
  "layer":[
   {"data":{"name":"axB"},"mark":{"type":"rule","strokeWidth":1.5,"color":"#111"},"encoding":{"x2":{"field":"x2"},"y2":{"field":"y2"}}},
   {"data":{"name":"lnB"},"mark":{"type":"line","color":"#111","strokeWidth":1.6},"encoding":{"detail":{"field":"seg"}}},
   {"data":{"name":"ptB"},"transform":[{"filter":"datum.grp === 'D'"}],"mark":{"type":"point","shape":"diamond","filled":true,"fill":"#999","stroke":"#333","strokeWidth":1.5,"size":45,"opacity":1}},
   {"data":{"name":"ptB"},"transform":[{"filter":"datum.grp === 'S'"}],"mark":{"type":"point","shape":"square","filled":true,"fill":"#999","stroke":"#111","strokeWidth":2.2,"size":70,"opacity":1}},
   {"data":{"name":"aB"},"mark":{"type":"rule","strokeWidth":4,"color":"#111"},"encoding":{"x2":{"field":"x0"},"y2":{"field":"y0"}}},
   {"data":{"name":"aB"},"mark":{"type":"point","shape":"triangle-right","filled":true,"opacity":1,"color":"#111","size":90},"encoding":{"angle":{"field":"ang","type":"quantitative","scale":null}}},
   {"data":{"name":"bB"},"mark":{"type":"rule","strokeWidth":3,"color":"#111"},"encoding":{"y2":{"field":"y2"}}},
   {"data":{"name":"tB"},"transform":[{"filter":"datum.kind === 'eq'"}],"mark":{"type":"text","align":"left","baseline":"middle","font":"Liberation Serif","fontSize":16.5,"color":"#333"},"encoding":{"text":{"field":"label"}}},
   {"data":{"name":"tB"},"transform":[{"filter":"datum.kind === 'di'"}],"mark":{"type":"text","align":"left","baseline":"middle","font":"Liberation Serif","fontSize":19,"color":"#111"},"encoding":{"text":{"field":"label"}}},
   {"data":{"name":"tB"},"transform":[{"filter":"datum.kind === 'big'"}],"mark":{"type":"text","align":"left","baseline":"middle","font":"Liberation Serif","fontWeight":"bold","fontSize":21.5,"color":"#111"},"encoding":{"text":{"field":"label"}}}
  ]
 }
]
}
